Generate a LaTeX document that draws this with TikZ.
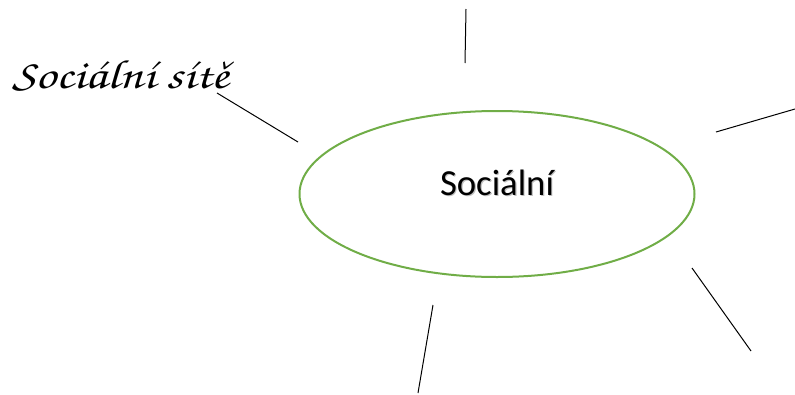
\documentclass[tikz,border=0pt]{standalone}
\usepackage[T1]{fontenc}
\usepackage{fontspec}
\usepackage{graphicx}
\newfontfamily\carlito{Carlito}
\newcommand{\scriptfnt}{\fontencoding{T1}\fontfamily{pzc}\fontseries{mb}\fontshape{it}\selectfont}
\definecolor{offgreen}{RGB}{112,173,71}
\tikzset{
  spoke/.style={draw=black, line width=1pt},
  bubble/.style={ellipse, draw=offgreen, line width=2pt, minimum width=395pt, minimum height=166pt, inner sep=0pt},
}
\usetikzlibrary{shapes.geometric}
\begin{document}
\begin{tikzpicture}[x=1pt,y=-1pt]
\useasboundingbox (0,0) rectangle (795,394);
\node[bubble] (main) at (497,194) {};
\node[anchor=base, text=black!25, inner sep=0pt] (mainshadow) at (498.2,196.2) {\resizebox{114pt}{!}{\carlito Sociální}};
\node[anchor=base, inner sep=0pt] (maintext) at (497,195) {\resizebox{114pt}{!}{\carlito Sociální}};
\node[anchor=base west, inner sep=0pt] (label) at (12,88) {\resizebox{217pt}{29pt}{\scriptfnt Soci\'aln\'{\i} s\'{\i}t\v{e}}};
\coordinate (a1) at (217,93); \coordinate (a2) at (298,142);
\coordinate (b1) at (466,9); \coordinate (b2) at (465,63);
\coordinate (c1) at (716,132); \coordinate (c2) at (795,109);
\coordinate (d1) at (692,268); \coordinate (d2) at (751,351);
\coordinate (e1) at (433,305); \coordinate (e2) at (418,393);
\draw[spoke] (a1) -- (a2);
\draw[spoke] (b1) -- (b2);
\draw[spoke] (c1) -- (c2);
\draw[spoke] (d1) -- (d2);
\draw[spoke] (e1) -- (e2);
\end{tikzpicture}
\end{document}
